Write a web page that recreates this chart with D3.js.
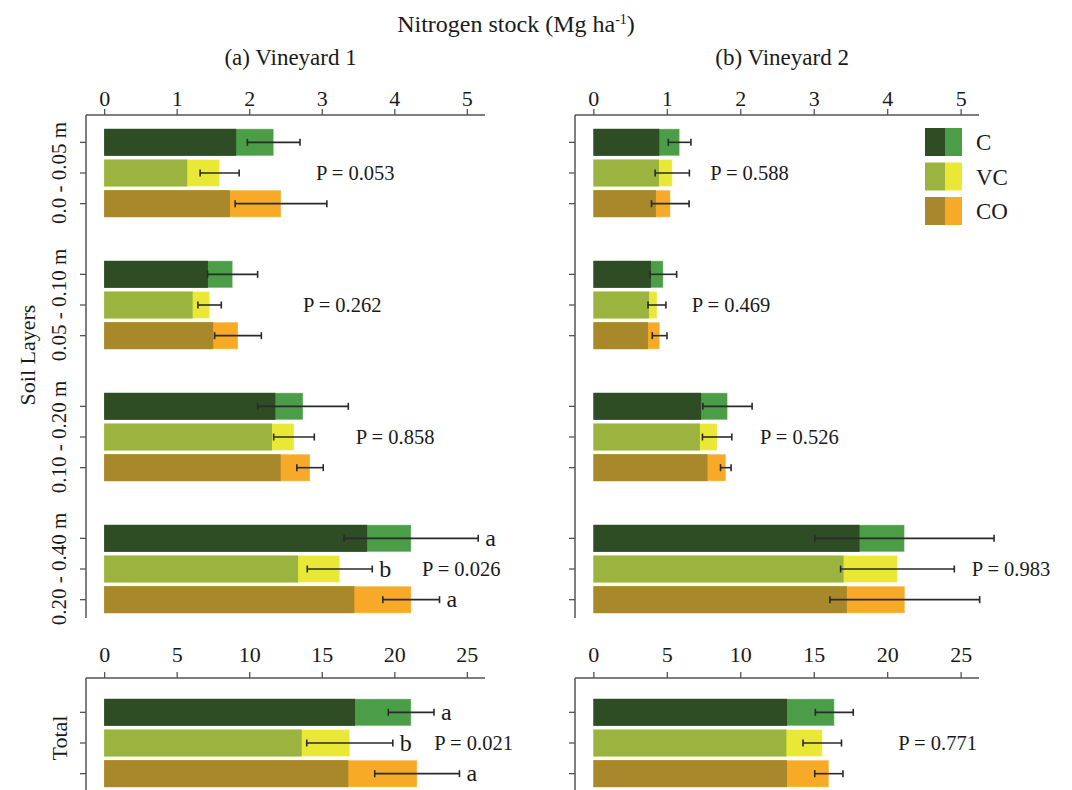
<!DOCTYPE html>
<html><head><meta charset="utf-8">
<script src="https://cdn.jsdelivr.net/npm/d3@7/dist/d3.min.js"></script>
<style>
html,body{margin:0;padding:0;background:#fff;}
text{font-family:"Liberation Serif","Times New Roman",serif;fill:#1a1a1a;}
</style></head>
<body><svg id="chart" width="1072" height="790"></svg>
<script>
// ---------------- DATA ----------------
const layers = ["0.0 - 0.05 m", "0.05 - 0.10 m", "0.10 - 0.20 m", "0.20 - 0.40 m"];
const treatments = ["C", "VC", "CO"];
const layerTicks = [0, 1, 2, 3, 4, 5];
const totalTicks = [0, 5, 10, 15, 20, 25];

// Vineyard 1: dark (inner) value, total bar value, error half-width; rows = layers, cols = C, VC, CO
const v1Dark  = [[1.82, 1.145, 1.734], [1.431, 1.22, 1.504], [2.36, 2.314, 2.434], [3.625, 2.673, 3.449]];
const v1Total = [[2.337, 1.592, 2.438], [1.771, 1.454, 1.845], [2.741, 2.617, 2.838], [4.232, 3.248, 4.232]];
const v1Err   = [[0.363, 0.269, 0.632], [0.345, 0.161, 0.322], [0.625, 0.28, 0.182], [0.924, 0.448, 0.391]];
const v1Letters = [["", "", ""], ["", "", ""], ["", "", ""], ["a", "b", "a"]];
const v1P = ["P = 0.053", "P = 0.262", "P = 0.858", "P = 0.026"];
const v1PAt = [2.92, 2.74, 3.47, 4.38];

// Vineyard 2
const v2Dark  = [[0.897, 0.893, 0.852], [0.784, 0.757, 0.743], [1.467, 1.45, 1.554], [3.624, 3.406, 3.451]];
const v2Total = [[1.174, 1.074, 1.047], [0.951, 0.866, 0.902], [1.826, 1.685, 1.803], [4.235, 4.14, 4.24]];
const v2Err   = [[0.154, 0.233, 0.256], [0.183, 0.122, 0.1], [0.335, 0.2, 0.072], [1.22, 0.774, 1.019]];
const v2Letters = [["", "", ""], ["", "", ""], ["", "", ""], ["", "", ""]];
const v2P = ["P = 0.588", "P = 0.469", "P = 0.526", "P = 0.983"];
const v2PAt = [1.59, 1.34, 2.27, 5.15];

// Totals
const t1Dark = [17.29, 13.62, 16.83], t1Total = [21.16, 16.93, 21.57], t1Err = [1.575, 2.966, 2.92];
const t1Letters = ["a", "b", "a"], t1P = "P = 0.021", t1PAt = 22.76;
const t2Dark = [13.18, 13.14, 13.18], t2Total = [16.4, 15.58, 16.03], t2Err = [1.29, 1.31, 0.96];
const t2Letters = ["", "", ""], t2P = "P = 0.771", t2PAt = 20.76;

const darkColors  = {C: "#2f4d24", VC: "#9bb43f", CO: "#a9882b"};
const lightColors = {C: "#4b9e47", VC: "#e9e836", CO: "#f6aa28"};

// ---------------- DRAW ----------------
const svg = d3.select("#chart");
const FS = 21;
const axisColor = "#555";

const yLayer = d3.scaleBand().domain(layers).range([107, 635]);
const yTotal = d3.scaleBand().domain(["Total"]).range([677, 809]);
const yInner = d3.scaleBand().domain(treatments).range([-46, 46]).paddingInner(0.12).paddingOuter(0.06);

const panels = [
  {name: "(a) Vineyard 1", range: [86, 485], dark: v1Dark, total: v1Total, err: v1Err, letters: v1Letters, P: v1P, PAt: v1PAt,
   tDark: t1Dark, tTotal: t1Total, tErr: t1Err, tLetters: t1Letters, tP: t1P, tPAt: t1PAt},
  {name: "(b) Vineyard 2", range: [575, 979], dark: v2Dark, total: v2Total, err: v2Err, letters: v2Letters, P: v2P, PAt: v2PAt,
   tDark: t2Dark, tTotal: t2Total, tErr: t2Err, tLetters: t2Letters, tP: t2P, tPAt: t2PAt}
];

function rowCenter(yOuter, key, t) {
  return yOuter(key) + yOuter.bandwidth() / 2 + yInner(t) + yInner.bandwidth() / 2;
}

function drawGroup(g, x, yOuter, key, dark, total, err, letters, pText, pAt) {
  const rows = treatments.map((t, i) => ({t, dark: dark[i], total: total[i], err: err[i], letter: letters[i]}));
  const top = d => yOuter(key) + yOuter.bandwidth() / 2 + yInner(d.t);
  const h = yInner.bandwidth();
  g.selectAll(null).data(rows).join("rect")
    .attr("x", x(0)).attr("y", top).attr("height", h)
    .attr("width", d => x(d.total) - x(0))
    .attr("fill", d => lightColors[d.t])
    .attr("stroke", "#fff").attr("stroke-opacity", 0.35).attr("stroke-width", 1);
  g.selectAll(null).data(rows).join("rect")
    .attr("x", x(0)).attr("y", top).attr("height", h)
    .attr("width", d => x(d.dark) - x(0))
    .attr("fill", d => darkColors[d.t]);
  const eb = g.selectAll(null).data(rows).join("g")
    .attr("stroke", "#2a2a2a").attr("stroke-width", 1.6);
  const cy = d => rowCenter(yOuter, key, d.t);
  eb.append("line").attr("x1", d => x(d.total - d.err)).attr("x2", d => x(d.total + d.err))
    .attr("y1", cy).attr("y2", cy);
  eb.append("line").attr("x1", d => x(d.total - d.err)).attr("x2", d => x(d.total - d.err))
    .attr("y1", d => cy(d) - 3.5).attr("y2", d => cy(d) + 3.5);
  eb.append("line").attr("x1", d => x(d.total + d.err)).attr("x2", d => x(d.total + d.err))
    .attr("y1", d => cy(d) - 3.5).attr("y2", d => cy(d) + 3.5);
  g.selectAll(null).data(rows.filter(d => d.letter)).join("text")
    .attr("x", d => x(d.total + d.err) + 7).attr("y", cy)
    .attr("dy", "0.32em").attr("font-size", FS + 3).text(d => d.letter);
  g.append("text").attr("x", x(pAt)).attr("y", rowCenter(yOuter, key, "VC"))
    .attr("dy", "0.35em").attr("font-size", FS - 0.5).text(pText);
  // y ticks
  g.selectAll(null).data(rows).join("line")
    .attr("x1", x.range()[0] - 6).attr("x2", x.range()[0])
    .attr("y1", cy).attr("y2", cy)
    .attr("stroke", axisColor).attr("stroke-width", 1.3);
}

panels.forEach((p, pi) => {
  const g = svg.append("g");
  // top layers panel
  const x = d3.scaleLinear().domain([-0.25, 5.25]).range(p.range);
  const ax = g.append("g").attr("transform", "translate(0,115)")
    .call(d3.axisTop(x).tickValues(layerTicks).tickSize(6).tickPadding(3).tickFormat(d3.format("d")));
  ax.select(".domain").attr("stroke", axisColor).attr("stroke-width", 1.5).attr("d", `M${p.range[0]},0H${p.range[1]}`);
  ax.selectAll(".tick line").attr("stroke", axisColor).attr("stroke-width", 1.3);
  ax.selectAll(".tick text").attr("font-size", FS + 1).attr("font-family", "Liberation Serif").attr("fill", "#1a1a1a");
  g.append("line").attr("x1", p.range[0]).attr("x2", p.range[0]).attr("y1", 115).attr("y2", 618)
    .attr("stroke", axisColor).attr("stroke-width", 1.5);
  layers.forEach((L, li) => drawGroup(g, x, yLayer, L, p.dark[li], p.total[li], p.err[li], p.letters[li], p.P[li], p.PAt[li]));

  // bottom totals panel
  const xt = d3.scaleLinear().domain([-1.25, 26.25]).range(p.range);
  const axt = g.append("g").attr("transform", "translate(0,678)")
    .call(d3.axisTop(xt).tickValues(totalTicks).tickSize(6).tickPadding(10).tickFormat(d3.format("d")));
  axt.select(".domain").attr("stroke", axisColor).attr("stroke-width", 1.5).attr("d", `M${p.range[0]},0H${p.range[1]}`);
  axt.selectAll(".tick line").attr("stroke", axisColor).attr("stroke-width", 1.3);
  axt.selectAll(".tick text").attr("font-size", FS + 1).attr("font-family", "Liberation Serif").attr("fill", "#1a1a1a");
  g.append("line").attr("x1", p.range[0]).attr("x2", p.range[0]).attr("y1", 678).attr("y2", 792)
    .attr("stroke", axisColor).attr("stroke-width", 1.5);
  drawGroup(g, xt, yTotal, "Total", p.tDark, p.tTotal, p.tErr, p.tLetters, p.tP, p.tPAt);

  // panel title
  g.append("text").attr("x", x(2.57)).attr("y", 65).attr("text-anchor", "middle")
    .attr("font-size", FS + 2).text(p.name);
});

// main title
const title = svg.append("text").attr("x", 516).attr("y", 32).attr("text-anchor", "middle").attr("font-size", FS + 3);
title.append("tspan").text("Nitrogen stock (Mg ha");
title.append("tspan").attr("font-size", 14).attr("dy", -8).text("-1");
title.append("tspan").attr("dy", 8).text(")");

// y labels
svg.append("text").attr("transform", "translate(27,355) rotate(-90)").attr("text-anchor", "middle")
  .attr("dy", "0.35em").attr("font-size", FS + 1).text("Soil Layers");
layers.forEach(L => {
  svg.append("text").attr("transform", `translate(59,${yLayer(L) + yLayer.bandwidth() / 2}) rotate(-90)`)
    .attr("text-anchor", "middle").attr("dy", "0.35em").attr("font-size", FS).text(L);
});
svg.append("text").attr("transform", `translate(59,${yTotal("Total") + yTotal.bandwidth() / 2 - 5}) rotate(-90)`)
  .attr("text-anchor", "middle").attr("dy", "0.35em").attr("font-size", FS + 1).text("Total");

// legend
const lg = svg.append("g");
treatments.forEach((t, i) => {
  const y0 = 128 + i * 34.5;
  lg.append("rect").attr("x", 925).attr("y", y0).attr("width", 20).attr("height", 28).attr("fill", darkColors[t]);
  lg.append("rect").attr("x", 945).attr("y", y0).attr("width", 17).attr("height", 28).attr("fill", lightColors[t]);
  lg.append("text").attr("x", 976).attr("y", y0 + 14).attr("dy", "0.35em").attr("font-size", FS + 2).text(t);
});
</script></body></html>
